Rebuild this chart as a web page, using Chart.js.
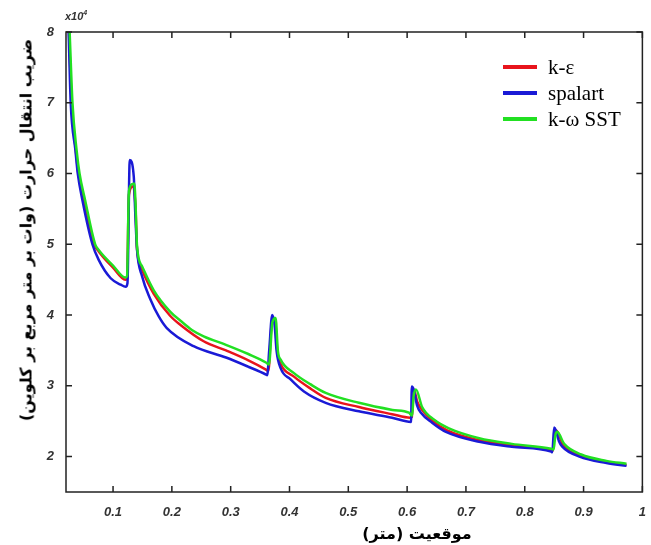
<!DOCTYPE html>
<html>
<head>
<meta charset="utf-8">
<script src="https://cdn.jsdelivr.net/npm/chart.js@4"></script>
<style>
  body { margin: 0; background: #fff; }
  #wrap { position: relative; width: 651px; height: 545px; }
  .leg { position: absolute; left: 503px; height: 4px; width: 34px; }
  .legtxt { position: absolute; left: 548px; font: 21px "Liberation Serif", serif; color: #000; line-height: 22px; }
  #ytitle { position: absolute; left: 26px; top: 230px; transform: translate(-50%, -50%) rotate(-90deg);
            white-space: nowrap; direction: rtl; font: bold 16px "DejaVu Sans", sans-serif; color: #000; }
  #xtitle { position: absolute; left: 417px; top: 533px; transform: translate(-50%, -50%);
            white-space: nowrap; direction: rtl; font: bold 16px "DejaVu Sans", sans-serif; color: #000; }
  #mult { position: absolute; left: 65px; top: 9px; font: italic bold 11px "Liberation Sans", Arial, sans-serif; color: #333; }
  #mult sup { font-size: 7px; }
</style>
</head>
<body>
<div id="wrap">
  <canvas id="myChart" width="651" height="545"></canvas>
  <div id="mult">x10<sup>4</sup></div>
  <div class="leg" style="top:65px;background:#e8141c"></div>
  <div class="legtxt" style="top:56px">k-ε</div>
  <div class="leg" style="top:91px;background:#1a1ad6"></div>
  <div class="legtxt" style="top:82px">spalart</div>
  <div class="leg" style="top:117px;background:#22e022"></div>
  <div class="legtxt" style="top:108px">k-ω SST</div>
  <div id="ytitle">ضریب انتقال حرارت (وات بر متر مربع بر کلوین)</div>
  <div id="xtitle">موقعیت (متر)</div>
</div>
<script>
// heat transfer coefficient (x10^4) vs position (m)
const xTicks = [0.1, 0.2, 0.3, 0.4, 0.5, 0.6, 0.7, 0.8, 0.9, 1]
const yTicks = [2, 3, 4, 5, 6, 7, 8]

const kepsX = [0.025, 0.0296, 0.037, 0.041, 0.051, 0.068, 0.0756, 0.1, 0.121, 0.1238, 0.127, 0.1343, 0.138, 0.1408, 0.1493, 0.1692, 0.197, 0.2147, 0.254, 0.292, 0.33, 0.360, 0.364, 0.370, 0.375, 0.3795, 0.3849, 0.4076, 0.436, 0.4615, 0.518, 0.5745, 0.605, 0.608, 0.6115, 0.617, 0.6255, 0.644, 0.668, 0.7225, 0.778, 0.845, 0.848, 0.851, 0.8535, 0.8655, 0.8945, 0.939, 0.973]
const kepsY = [8.0, 7.0, 6.3, 6.0, 5.62, 5.0, 4.9, 4.67, 4.50, 4.52, 5.7, 5.82, 5.55, 4.93, 4.64, 4.30, 3.99, 3.86, 3.63, 3.50, 3.36, 3.23, 3.21, 3.9, 3.95, 3.47, 3.31, 3.13, 2.96, 2.83, 2.70, 2.60, 2.55, 2.56, 2.95, 2.78, 2.66, 2.50, 2.37, 2.23, 2.16, 2.09, 2.08, 2.36, 2.37, 2.16, 2.01, 1.92, 1.88]

const spalartX = [0.0245, 0.028, 0.036, 0.040, 0.048, 0.065, 0.0756, 0.096, 0.113, 0.1215, 0.1245, 0.1284, 0.1352, 0.138, 0.1408, 0.1493, 0.1636, 0.1777, 0.191, 0.237, 0.292, 0.33, 0.360, 0.3621, 0.3655, 0.3706, 0.3747, 0.3781, 0.3849, 0.4019, 0.4246, 0.4615, 0.518, 0.5745, 0.6067, 0.608, 0.611, 0.617, 0.6235, 0.6425, 0.666, 0.7225, 0.778, 0.845, 0.8468, 0.850, 0.853, 0.858, 0.8638, 0.893, 0.939, 0.973]
const spalartY = [8.0, 7.0, 6.33, 6.0, 5.62, 5.0, 4.78, 4.52, 4.43, 4.40, 4.45, 6.19, 5.96, 5.39, 4.92, 4.55, 4.22, 3.98, 3.82, 3.56, 3.40, 3.27, 3.16, 3.15, 3.5, 4.0, 3.86, 3.49, 3.25, 3.09, 2.92, 2.76, 2.64, 2.55, 2.49, 2.99, 2.95, 2.72, 2.62, 2.48, 2.35, 2.21, 2.14, 2.07, 2.06, 2.41, 2.37, 2.22, 2.14, 2.00, 1.91, 1.87]

const sstX = [0.0262, 0.031, 0.038, 0.043, 0.0526, 0.0696, 0.0756, 0.100, 0.121, 0.1238, 0.127, 0.1325, 0.136, 0.138, 0.1408, 0.1493, 0.1692, 0.197, 0.2147, 0.234, 0.254, 0.292, 0.33, 0.360, 0.365, 0.371, 0.3764, 0.3803, 0.3849, 0.4076, 0.436, 0.4615, 0.518, 0.575, 0.603, 0.6085, 0.611, 0.615, 0.6255, 0.646, 0.671, 0.7225, 0.778, 0.845, 0.849, 0.852, 0.855, 0.867, 0.896, 0.939, 0.973]
const sstY = [8.0, 7.0, 6.33, 6.0, 5.62, 5.0, 4.92, 4.70, 4.53, 4.55, 5.75, 5.85, 5.86, 5.63, 4.97, 4.69, 4.35, 4.05, 3.92, 3.79, 3.70, 3.58, 3.45, 3.33, 3.30, 3.9, 3.96, 3.49, 3.37, 3.18, 3.02, 2.90, 2.76, 2.66, 2.62, 2.58, 2.85, 2.95, 2.70, 2.52, 2.40, 2.26, 2.18, 2.11, 2.10, 2.30, 2.35, 2.18, 2.03, 1.94, 1.90]

const toPts = (xs, ys) => xs.map((x, i) => ({x: x, y: ys[i]}))

// box round the plot with inward ticks on all four sides
const boxTicks = {
  id: 'boxTicks',
  afterDatasetsDraw(chart) {
    const {ctx, chartArea: a, scales} = chart
    ctx.save()
    ctx.strokeStyle = '#222'
    ctx.lineWidth = 1.5
    ctx.strokeRect(a.left, a.top, a.right - a.left, a.bottom - a.top)
    ctx.beginPath()
    xTicks.forEach(v => {
      const px = scales.x.getPixelForValue(v)
      ctx.moveTo(px, a.bottom); ctx.lineTo(px, a.bottom - 6)
      ctx.moveTo(px, a.top); ctx.lineTo(px, a.top + 6)
    })
    yTicks.forEach(v => {
      const py = scales.y.getPixelForValue(v)
      ctx.moveTo(a.left, py); ctx.lineTo(a.left + 6, py)
      ctx.moveTo(a.right, py); ctx.lineTo(a.right - 6, py)
    })
    ctx.stroke()
    ctx.restore()
  }
}

const tickFont = {family: '"Liberation Sans", Arial, sans-serif', size: 13, weight: 'bold', style: 'italic'}

new Chart(document.getElementById('myChart').getContext('2d'), {
  type: 'scatter',
  data: {
    datasets: [
      {label: 'k-ε', data: toPts(kepsX, kepsY), borderColor: '#e8141c', order: 2},
      {label: 'spalart', data: toPts(spalartX, spalartY), borderColor: '#1a1ad6', order: 1},
      {label: 'k-ω SST', data: toPts(sstX, sstY), borderColor: '#22e022', order: 0}
    ]
  },
  options: {
    responsive: false,
    devicePixelRatio: 1,
    animation: false,
    showLine: true,
    elements: {
      point: {radius: 0},
      line: {borderWidth: 2.5, cubicInterpolationMode: 'monotone'}
    },
    layout: {padding: {left: 0, right: 8, top: 32, bottom: 0}},
    plugins: {legend: {display: false}, tooltip: {enabled: false}},
    scales: {
      x: {
        type: 'linear', min: 0.02, max: 1,
        afterBuildTicks: s => { s.ticks = xTicks.map(v => ({value: v})) },
        afterFit: s => { s.height = 53 },
        grid: {display: false}, border: {display: false},
        ticks: {font: tickFont, color: '#333', padding: 5, maxRotation: 0, callback: v => String(v)}
      },
      y: {
        type: 'linear', min: 1.5, max: 8,
        afterBuildTicks: s => { s.ticks = yTicks.map(v => ({value: v})) },
        afterFit: s => { s.width = 66 },
        grid: {display: false}, border: {display: false},
        ticks: {font: tickFont, color: '#333', padding: 4}
      }
    }
  },
  plugins: [boxTicks]
})
</script>
</body>
</html>
